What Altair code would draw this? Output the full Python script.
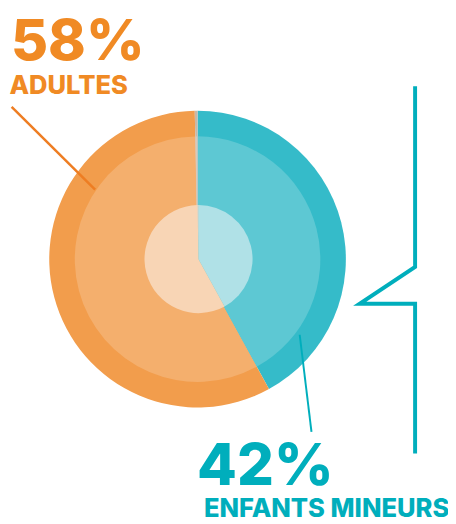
import altair as alt
import pandas as pd

# Data
categories = ["Enfants mineurs", "Adultes", "Non renseigné"]
values = [42.0, 57.7, 0.3]
order = [1, 2, 3]
outer_colors = ["#35BBC9", "#F29D4C", "#C9B8A8"]
middle_colors = ["#5DC8D3", "#F4AF6D", "#D8C9BC"]
inner_colors = ["#B0E1E7", "#F8D5B5", "#E8DDD3"]

label_big = ["58%", "42%"]
label_small = ["ADULTES", "ENFANTS MINEURS"]

df = pd.DataFrame({
    "cat": categories,
    "value": values,
    "order": order,
    "c_out": outer_colors,
    "c_mid": middle_colors,
    "c_in": inner_colors,
})

W, H = 448, 516
CX, CY = 193, 251

base = alt.Chart(df).encode(
    theta=alt.Theta("value:Q", stack=True),
    order=alt.Order("order:Q"),
)

outer = base.mark_arc(radius=151, x=CX, y=CY).encode(color=alt.Color("c_out:N", scale=None))
middle = base.mark_arc(radius=125, x=CX, y=CY).encode(color=alt.Color("c_mid:N", scale=None))
inner = base.mark_arc(radius=55, x=CX + 1, y=CY).encode(color=alt.Color("c_in:N", scale=None))

ORANGE = "#F08A24"
TEAL = "#00AEBC"

def text(t, x, y, size, color):
    return alt.Chart(pd.DataFrame({"t": [t]})).mark_text(
        align="left", baseline="alphabetic", font="Inter", fontWeight=800,
        fontSize=size, color=color,
    ).encode(text="t:N", x=alt.value(x), y=alt.value(y))

t1 = text(label_big[0], 3, 48.5, 58, ORANGE)
t2 = text(label_small[0], 1.5, 82.5, 26, ORANGE)
t3 = text(label_big[1], 192.5, 480.5, 59, TEAL)
t4 = text(label_small[1], 199.5, 513.5, 26, TEAL)

def seg(x1, y1, x2, y2, color, w):
    return alt.Chart(pd.DataFrame({"a": [0]})).mark_rule(color=color, strokeWidth=w).encode(
        x=alt.value(x1), y=alt.value(y1), x2=alt.value(x2), y2=alt.value(y2)
    )

lead_orange = seg(3.7, 96, 88.7, 180.3, "#EE7D22", 2.5)
lead_teal = seg(297, 328, 309, 427, TEAL, 2)

bracket_pts = pd.DataFrame({
    "px": [414.5, 414.5, 358, 414.5, 414.5],
    "py": [75, 259, 296.5, 296.5, 449],
    "i": [0, 1, 2, 3, 4],
})
bracket = alt.Chart(bracket_pts).mark_line(
    color=TEAL, strokeWidth=4, strokeJoin="miter", strokeCap="butt"
).encode(
    x=alt.X("px:Q", scale=None),
    y=alt.Y("py:Q", scale=None),
    order="i:Q",
)

chart = alt.layer(
    outer, middle, inner, lead_orange, lead_teal, bracket, t1, t2, t3, t4
).properties(
    width=W, height=H, autosize=alt.AutoSizeParams(type="none"), padding=0,
    background="white",
).configure_view(stroke=None)

chart.save("out.html", embed_options={"renderer": "svg", "actions": False})
